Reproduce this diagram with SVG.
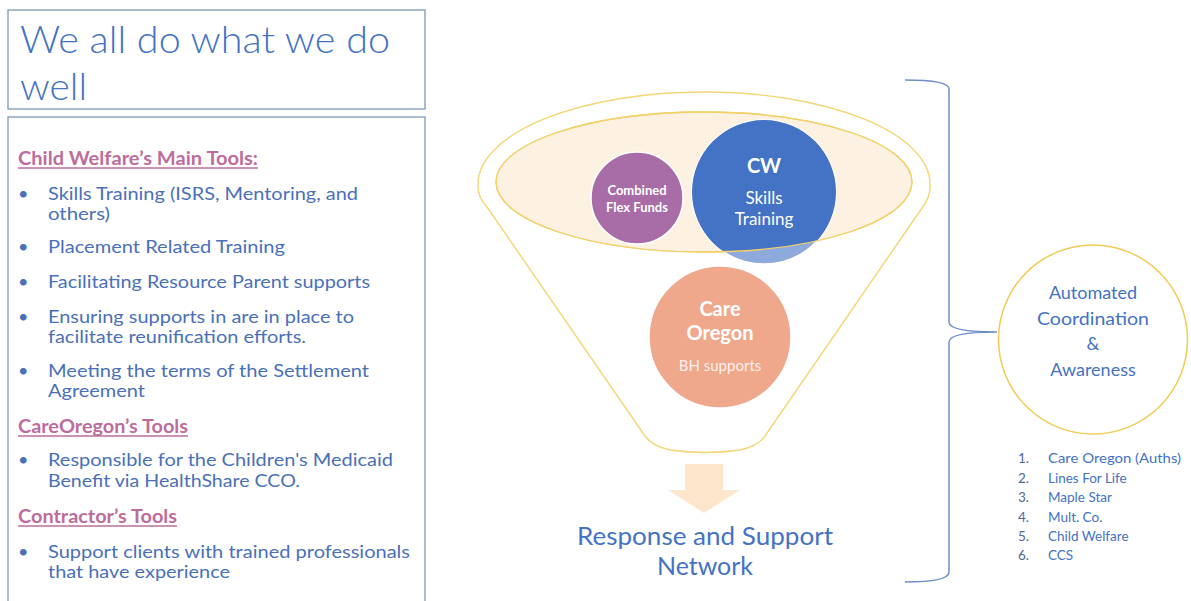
<svg xmlns="http://www.w3.org/2000/svg" width="1191" height="601" viewBox="0 0 1191 601">
  <defs>
    <style>
      .frame { fill: #ffffff; stroke: #7d98b3; stroke-width: 1.3; }
      .title { font-family: Lato, "Open Sans", sans-serif; font-weight: 300; font-size: 38px; fill: #4472c4; }
      .head { font-family: Lato, "Open Sans", sans-serif; font-weight: 700; font-size: 18px; fill: #bd6d9c; }
      .uline { stroke: #bd6d9c; stroke-width: 1.3; }
      .body { font-family: Lato, "Open Sans", sans-serif; font-size: 18px; fill: #4a70b8; }
      .dot { font-family: Lato, "Open Sans", sans-serif; font-size: 18px; fill: #4a70b8; }
      .wlab { font-family: Lato, "Open Sans", sans-serif; fill: #ffffff; text-anchor: middle; }
      .blue { font-family: Lato, "Open Sans", sans-serif; fill: #4472c4; }
      .list { font-family: Lato, "Open Sans", sans-serif; font-size: 13.5px; fill: #4472c4; }
      .num { font-family: Lato, "Open Sans", sans-serif; font-size: 13.5px; fill: #4f6a96; }
      .gold { fill: none; stroke: #f3d676; stroke-width: 1.4; }
    </style>
    <clipPath id="innerClip">
      <ellipse cx="704" cy="182" rx="208" ry="70"/>
    </clipPath>
  </defs>

  <rect width="1191" height="601" fill="#ffffff"/>

  <!-- Left panel: title and tool lists -->
  <g id="panel-title">
    <rect class="frame" x="8" y="10" width="417" height="99"/>
    <text class="title" x="20" y="53" textLength="370" lengthAdjust="spacingAndGlyphs">We all do what we do</text>
    <text class="title" x="20" y="100" textLength="67" lengthAdjust="spacingAndGlyphs">well</text>
  </g>

  <g id="panel-tools">
    <rect class="frame" x="8" y="117" width="417" height="500"/>

    <text class="head" x="18" y="165" textLength="240" lengthAdjust="spacingAndGlyphs">Child Welfare’s Main Tools:</text>
    <line class="uline" x1="18" y1="168" x2="258" y2="168"/>

    <text class="dot" x="18" y="200">•</text>
    <text class="body" x="48" y="200" textLength="310" lengthAdjust="spacingAndGlyphs">Skills Training (ISRS, Mentoring, and</text>
    <text class="body" x="48" y="220" textLength="62" lengthAdjust="spacingAndGlyphs">others)</text>

    <text class="dot" x="18" y="253">•</text>
    <text class="body" x="48" y="253" textLength="237" lengthAdjust="spacingAndGlyphs">Placement Related Training</text>

    <text class="dot" x="18" y="288">•</text>
    <text class="body" x="48" y="288" textLength="322" lengthAdjust="spacingAndGlyphs">Facilitating Resource Parent supports</text>

    <text class="dot" x="18" y="323">•</text>
    <text class="body" x="48" y="323" textLength="306" lengthAdjust="spacingAndGlyphs">Ensuring supports in are in place to</text>
    <text class="body" x="48" y="343" textLength="258" lengthAdjust="spacingAndGlyphs">facilitate reunification efforts.</text>

    <text class="dot" x="18" y="377">•</text>
    <text class="body" x="48" y="377" textLength="321" lengthAdjust="spacingAndGlyphs">Meeting the terms of the Settlement</text>
    <text class="body" x="48" y="397" textLength="97" lengthAdjust="spacingAndGlyphs">Agreement</text>

    <text class="head" x="18" y="433" textLength="170" lengthAdjust="spacingAndGlyphs">CareOregon’s Tools</text>
    <line class="uline" x1="18" y1="436" x2="188" y2="436"/>

    <text class="dot" x="18" y="466">•</text>
    <text class="body" x="48" y="466" textLength="345" lengthAdjust="spacingAndGlyphs">Responsible for the Children's Medicaid</text>
    <text class="body" x="48" y="487" textLength="252" lengthAdjust="spacingAndGlyphs">Benefit via HealthShare CCO.</text>

    <text class="head" x="18" y="523" textLength="159" lengthAdjust="spacingAndGlyphs">Contractor’s Tools</text>
    <line class="uline" x1="18" y1="526" x2="177" y2="526"/>

    <text class="dot" x="18" y="558">•</text>
    <text class="body" x="48" y="558" textLength="362" lengthAdjust="spacingAndGlyphs">Support clients with trained professionals</text>
    <text class="body" x="48" y="578" textLength="182" lengthAdjust="spacingAndGlyphs">that have experience</text>
  </g>

  <!-- Funnel -->
  <g id="funnel">
    <path class="gold" d="M 478,184 A 226 92 0 0 1 930,184 Q 931,196 922,208 L 765,436 Q 758,446 740,450 Q 705,455 670,450 Q 652,446 645,436 L 487,207 Q 477,196 478,184 Z"/>
    <ellipse cx="704" cy="182" rx="208" ry="70" fill="#fdf1e1" stroke="#f1d16a" stroke-width="1.3"/>
  </g>

  <g id="flex-funds">
    <circle cx="637" cy="198" r="46" fill="#a86ca6" stroke="#ffffff" stroke-width="1.5"/>
    <text class="wlab" x="637" y="195" font-size="13" font-weight="700">Combined</text>
    <text class="wlab" x="637" y="212" font-size="13" font-weight="700">Flex Funds</text>
  </g>

  <g id="cw">
    <circle cx="764" cy="192" r="72" fill="#8ea9dc" stroke="#ffffff" stroke-width="1.5"/>
    <circle cx="764" cy="192" r="72" fill="#4472c4" clip-path="url(#innerClip)"/>
    <ellipse cx="704" cy="182" rx="208" ry="70" fill="none" stroke="#f1d16a" stroke-width="1.3"/>
    <text class="wlab" x="764" y="173" font-size="20" font-weight="700">CW</text>
    <text class="wlab" x="764" y="204" font-size="17">Skills</text>
    <text class="wlab" x="764" y="225" font-size="17">Training</text>
  </g>

  <g id="care-oregon">
    <circle cx="720" cy="337" r="71" fill="#f0a88c" stroke="#ffffff" stroke-width="1.5"/>
    <text class="wlab" x="720" y="316" font-size="20" font-weight="700">Care</text>
    <text class="wlab" x="720" y="340" font-size="20" font-weight="700">Oregon</text>
    <text class="wlab" x="720" y="371" font-size="15" fill-opacity="0.85">BH supports</text>
  </g>

  <g id="response-network">
    <text class="blue" x="705" y="545" font-size="25" text-anchor="middle" textLength="256" lengthAdjust="spacingAndGlyphs">Response and Support</text>
    <text class="blue" x="705" y="575" font-size="25" text-anchor="middle" textLength="96" lengthAdjust="spacingAndGlyphs">Network</text>
  </g>

  <g id="automated">
    <circle cx="1093" cy="339.5" r="94.5" fill="#ffffff" stroke="#f2cb55" stroke-width="1.5"/>
    <text class="blue" x="1093" y="299" font-size="18" text-anchor="middle">Automated</text>
    <text class="blue" x="1093" y="325" font-size="18" text-anchor="middle" textLength="112" lengthAdjust="spacingAndGlyphs">Coordination</text>
    <text class="blue" x="1093" y="350" font-size="18" text-anchor="middle">&amp;</text>
    <text class="blue" x="1093" y="376" font-size="18" text-anchor="middle">Awareness</text>
  </g>

  <g id="partner-list">
    <text class="num" x="1018" y="463">1.</text>
    <text class="list" x="1048" y="463" textLength="133" lengthAdjust="spacingAndGlyphs">Care Oregon (Auths)</text>
    <text class="num" x="1018" y="483">2.</text>
    <text class="list" x="1048" y="483">Lines For Life</text>
    <text class="num" x="1018" y="502">3.</text>
    <text class="list" x="1048" y="502">Maple Star</text>
    <text class="num" x="1018" y="522">4.</text>
    <text class="list" x="1048" y="522">Mult. Co.</text>
    <text class="num" x="1018" y="541">5.</text>
    <text class="list" x="1048" y="541">Child Welfare</text>
    <text class="num" x="1018" y="560">6.</text>
    <text class="list" x="1048" y="560">CCS</text>
  </g>

  <!-- Connectors: flow arrow and grouping brace -->
  <g id="connectors">
    <path d="M 685,464 L 723,464 L 723,490 L 740,490 L 704,513 L 668,490 L 685,490 Z" fill="#fde6cc"/>
    <path d="M 905,80 Q 949,80 949,89 L 949,322 Q 949,332 997,332 Q 949,332 949,342 L 949,572 Q 949,582 905,582" fill="none" stroke="#6f8fcb" stroke-width="1.5"/>
  </g>
</svg>
